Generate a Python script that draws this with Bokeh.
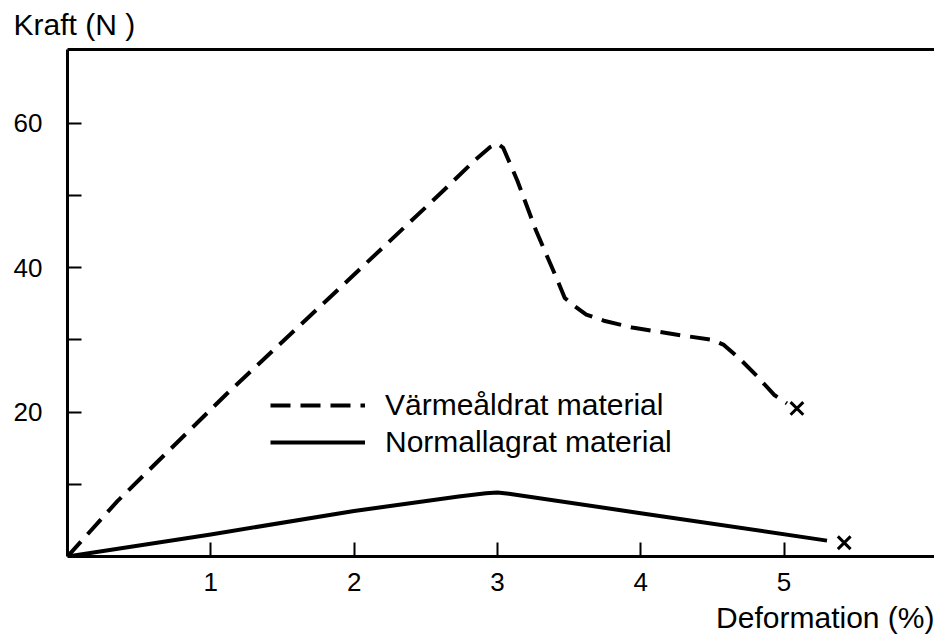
from bokeh.plotting import figure
from bokeh.models import (Range1d, FixedTicker, LinearAxis, Legend, LegendItem, Title)
from bokeh.embed import file_html
from bokeh.resources import INLINE

# ---- data ----
aged_x = [0.0, 0.35, 1.11, 1.88, 2.62, 2.85, 2.95, 3.0, 3.04, 3.14, 3.27, 3.42, 3.47, 3.53,
          3.62, 3.75, 3.94, 4.29, 4.50, 4.58, 4.69, 4.81, 4.93, 5.02]
aged_y = [0.0, 7.7, 22.5, 36.8, 50.6, 55.0, 56.7, 57.2, 56.6, 52.0, 45.1, 38.2, 35.8, 34.8,
          33.5, 32.6, 31.7, 30.6, 30.0, 29.3, 27.4, 25.0, 22.4, 21.2]
normal_x = [0.0, 1.0, 2.0, 2.73, 2.92, 3.0, 3.08, 4.0, 5.30]
normal_y = [0.0, 3.05, 6.3, 8.3, 8.75, 8.85, 8.7, 6.0, 2.2]
break_x = [5.09, 5.42]
break_y = [20.5, 1.9]

x_ticks = [1, 2, 3, 4, 5]
x_tick_labels = ["1", "2", "3", "4", "5"]
y_ticks = [10, 20, 30, 40, 50, 60]
y_tick_labels = ["", "20", "", "40", "", "60"]

series_names = ["Värmeåldrat material", "Normallagrat material"]
x_title = "Deformation (%)"
y_title = "Kraft (N )"

FONT = "Liberation Sans"

p = figure(width=934, height=639, x_range=Range1d(0, 6.05), y_range=Range1d(0, 70.2),
           output_backend="svg", toolbar_location=None,
           min_border_left=67, min_border_right=0, min_border_top=48, min_border_bottom=83)
p.grid.visible = False
p.outline_line_color = None
p.background_fill_color = "white"
p.border_fill_color = "white"

xax = p.below[0]
yax = p.left[0]

for ax in (xax, yax):
    ax.axis_line_width = 3
    ax.axis_line_color = "black"
    ax.major_tick_in = 14
    ax.major_tick_out = 0
    ax.major_tick_line_width = 2
    ax.major_tick_line_color = "black"
    ax.minor_tick_line_color = None
    ax.major_label_text_font = FONT
    ax.major_label_text_font_size = "26px"
    ax.major_label_text_color = "black"

xax.ticker = FixedTicker(ticks=x_ticks)
xax.major_label_overrides = {t: l for t, l in zip(x_ticks, x_tick_labels)}
xax.major_label_standoff = 16
yax.ticker = FixedTicker(ticks=y_ticks)
yax.major_label_overrides = {t: l for t, l in zip(y_ticks, y_tick_labels)}
yax.major_label_standoff = 25

top = LinearAxis(ticker=FixedTicker(ticks=[]), axis_line_width=3, axis_line_color="black",
                 major_tick_line_color=None, minor_tick_line_color=None,
                 major_label_text_font_size="0px")
p.add_layout(top, "above")

r1 = p.line(aged_x, aged_y, line_width=4, line_color="black", line_dash="20 10",
            line_join="round")
r2 = p.line(normal_x, normal_y, line_width=4, line_color="black", line_join="round")
p.scatter(break_x, break_y, marker="x", size=18, line_width=3, line_color="black")

legend = Legend(items=[LegendItem(label=series_names[0], renderers=[r1]),
                       LegendItem(label=series_names[1], renderers=[r2])],
                location=(203, 97), glyph_width=95, glyph_height=34, label_height=34,
                spacing=3, padding=0, margin=0, label_standoff=20,
                label_text_font=FONT, label_text_font_size="30px",
                label_text_color="black",
                border_line_color=None, background_fill_alpha=0)
p.add_layout(legend, "center")

p.title.text = y_title
p.title.align = "left"
p.title.offset = -54
p.title.vertical_align = "top"
p.title.text_font = FONT
p.title.text_font_size = "30px"
p.title.text_font_style = "normal"
p.title.text_color = "black"
p.title.standoff = 14

xt = Title(text=x_title, align="right", text_font=FONT, text_font_size="30px",
           text_font_style="normal", text_color="black", standoff=10)
p.add_layout(xt, "below")

open("out.html", "w").write(file_html(p, INLINE))
